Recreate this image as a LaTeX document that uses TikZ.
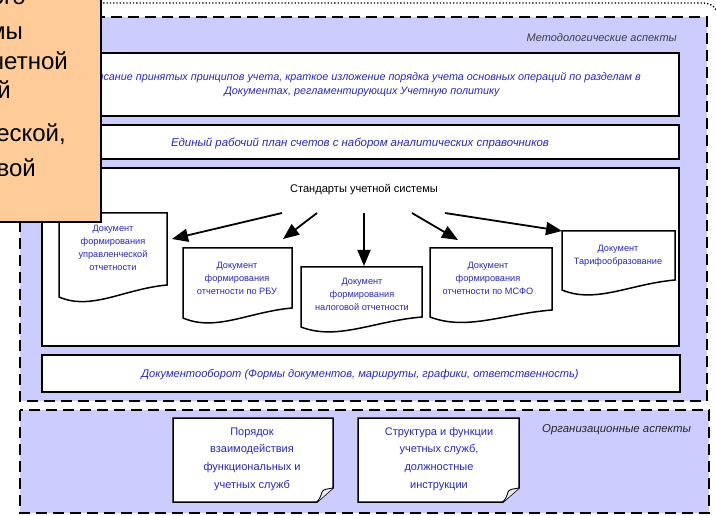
\documentclass[tikz,border=0pt]{standalone}
\usepackage{fontspec}
\setmainfont{Liberation Sans}
\usetikzlibrary{arrows.meta}
\definecolor{lav}{RGB}{204,204,255}
\definecolor{peach}{RGB}{255,204,153}
\definecolor{tblue}{RGB}{40,40,180}
\definecolor{lblgray}{RGB}{60,60,70}
\newcommand\wavedoc[5]{%
  \path[docshape] (#1,#2) -- (#3,#2) -- (#3,#4)
    .. controls ({#1+0.6*(#3-#1)},{#4+4}) and ({#1+0.3*(#3-#1)},{#5+14}) .. (#1,#5) -- cycle;}
\newcommand\notedoc[4]{%
  \path[docshape] (#1,#2) -- (#3,#2) -- (#3,{#4-14}) -- ({#3-16},#4) -- (#1,#4) -- cycle;
  \path[docshape, line width=0.9pt, fill=white!85!gray] (#3,{#4-14}) .. controls ({#3-5},{#4-13}) and ({#3-10},{#4-13}) .. ({#3-11},{#4-10})
    .. controls ({#3-12},{#4-6}) and ({#3-14},{#4-2}) .. ({#3-16},#4);}
\begin{document}
\begin{tikzpicture}[x=1pt,y=-1pt,
  region/.style={draw=black, fill=lav, line width=2.2pt, dash pattern=on 11pt off 6pt},
  wbox/.style={draw=black, fill=white, line width=1.6pt},
  docshape/.style={draw=black, fill=white, line width=1.5pt},
  btxt/.style={text=tblue, font=\fontsize{10.8}{14}\selectfont\itshape, align=center, inner sep=0pt},
  dtxt/.style={text=tblue, font=\fontsize{9.2}{13}\selectfont, align=center, inner sep=0pt},
  ntxt/.style={text=tblue, font=\fontsize{11}{17.7}\selectfont, align=center, inner sep=0pt},
  lbl/.style={text=lblgray, font=\fontsize{11}{13}\selectfont\itshape, inner sep=0pt},
  otxt/.style={text=black, font=\fontsize{24}{28}\selectfont, inner sep=0pt, anchor=base east},
  arr/.style={-{Triangle[length=16pt,width=13pt]}, line width=1.8pt}]
\useasboundingbox (0,0) rectangle (716,516);
% dotted outer frame
\draw[dotted, line width=1.3pt] (90,3) -- (702,3) .. controls (710,3) and (714,6) .. (716,10);
% regions
\path[region] (20,17) rectangle (707,401);
\path[region] (20,410) rectangle (709,513);
\node[lbl, anchor=east] (meth) at (677,38) {Методологические аспекты};
\node[lbl, anchor=west, text=black!85, font=\fontsize{11.4}{13}\selectfont\itshape] (org) at (542,430) {Организационные аспекты};
% white boxes
\path[wbox] (42,53) rectangle (679,116);
\node[btxt] (b1) at (362,85) {Описание принятых принципов учета, краткое изложение порядка учета основных операций по разделам в\\Документах, регламентирующих Учетную политику};
\path[wbox] (42,125) rectangle (679,159);
\node[btxt, font=\fontsize{11.4}{14}\selectfont\itshape] (b2) at (360,143) {Единый рабочий план  счетов с набором аналитических справочников};
\path[wbox] (42,168) rectangle (679,346);
\node[font=\fontsize{11.1}{13}\selectfont, inner sep=0pt] (std) at (364,190) {Стандарты учетной системы};
\path[wbox] (42,355) rectangle (680,392);
\node[btxt, font=\fontsize{11.1}{14}\selectfont\itshape] (b4) at (360,375) {Документооборот (Формы документов, маршруты, графики, ответственность)};
% documents
\wavedoc{59}{213}{167}{285}{297}
\node[dtxt] (d1) at (113,248) {Документ\\формирования\\управленческой\\отчетности};
\wavedoc{183}{248}{292}{308}{318}
\node[dtxt] (d2) at (237,278) {Документ\\формирования\\отчетности по РБУ};
\wavedoc{301}{267}{422}{317}{327}
\node[dtxt] (d3) at (362,294) {Документ\\формирования\\налоговой отчетности};
\wavedoc{430}{248}{552}{310}{317}
\node[dtxt] (d4) at (488,278) {Документ\\формирования\\отчетности по МСФО};
\wavedoc{562}{231}{675}{280}{290}
\node[dtxt] (d5) at (618,256) {Документ\\Тарифообразование};
% arrows
\coordinate (s1) at (282,213); \coordinate (t1) at (172,239);
\coordinate (s2) at (317,213); \coordinate (t2) at (283,239);
\coordinate (s3) at (364,213); \coordinate (t3) at (364,266);
\coordinate (s4) at (412,213); \coordinate (t4) at (458,240);
\coordinate (s5) at (445,213); \coordinate (t5) at (562,231);
\draw[arr] (s1) -- (t1);
\draw[arr] (s2) -- (t2);
\draw[arr] (s3) -- (t3);
\draw[arr] (s4) -- (t4);
\draw[arr] (s5) -- (t5);
% notes
\notedoc{173}{418}{333}{502}
\node[ntxt] (n1) at (252,459) {Порядок\\взаимодействия\\функциональных  и\\учетных служб};
\notedoc{358}{418}{519}{502}
\node[ntxt] (n2) at (439,459) {Структура и функции\\учетных служб,\\должностные\\инструкции};
% orange box
\draw[fill=peach, line width=1.3pt] (-5,-5) rectangle (101,222);
\begin{scope}
\clip (-5,-5) rectangle (100,221);
\node[otxt] (o0) at (26,5) {Элементы единого};
\node[otxt] (o1) at (23,40) {системы};
\node[otxt] (o2) at (68,70) {учетной};
\node[otxt] (o3) at (11,99) {политикой};
\node[otxt] (o4) at (66,142) {управленческой,};
\node[otxt] (o5) at (36,177) {налоговой};
\end{scope}
\end{tikzpicture}
\end{document}
